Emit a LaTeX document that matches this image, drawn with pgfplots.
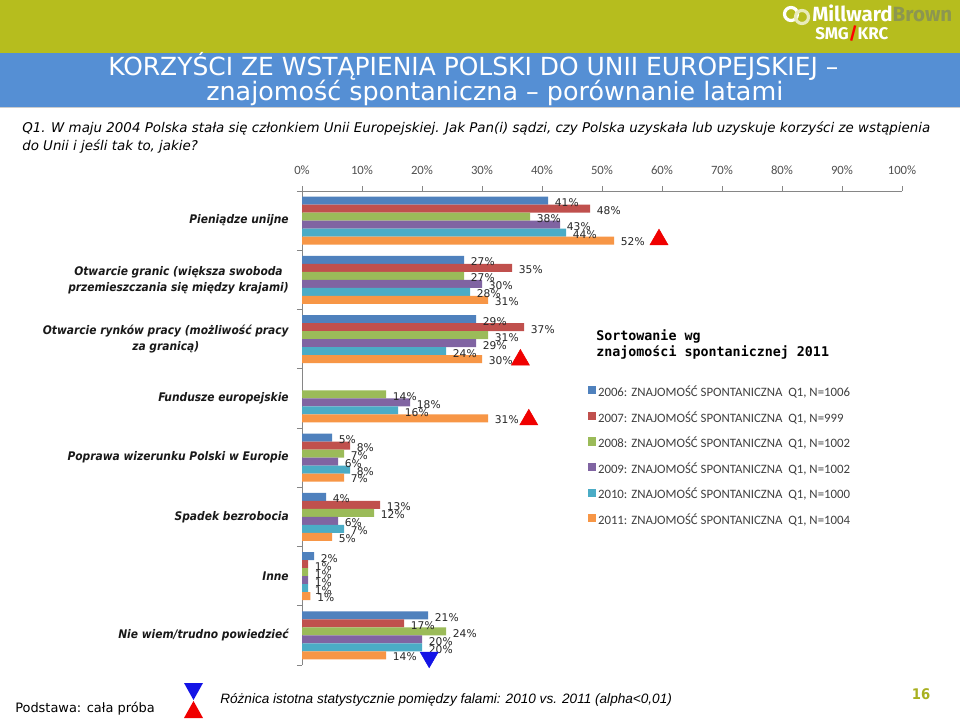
\documentclass[border=0pt]{standalone}
\usepackage{pgfplots}
\pgfplotsset{compat=1.18}
\usepackage{fontspec}
\setmainfont{DejaVu Sans}
\newfontfamily\condf{DejaVu Sans Condensed}
\newfontfamily\carl{Carlito}
\newfontfamily\libs{Liberation Sans}
\newfontfamily\monof{DejaVu Sans Mono}
\newfontfamily\fira{Fira Sans}
\definecolor{cA}{HTML}{4F81BD}
\definecolor{cB}{HTML}{C0504D}
\definecolor{cC}{HTML}{9BBB59}
\definecolor{cD}{HTML}{8064A2}
\definecolor{cE}{HTML}{4BACC6}
\definecolor{cF}{HTML}{F79646}
\definecolor{mbgreen}{RGB}{182,189,30}
\definecolor{mbblue}{RGB}{85,143,212}
\definecolor{mbolive}{RGB}{168,176,32}
\definecolor{mbbrown}{RGB}{140,150,80}
\definecolor{axisgray}{RGB}{134,134,134}
\definecolor{tickgray}{RGB}{80,80,80}
\definecolor{legtext}{RGB}{64,64,64}
\definecolor{sigred}{RGB}{240,0,0}
\definecolor{sigblue}{RGB}{20,20,230}
\pgfplotsset{
  vals/.style={
    point meta=x,
    nodes near coords={\pgfmathprintnumber[fixed,precision=0]{\pgfplotspointmeta}\%},
    every node near coord/.style={font=\fontsize{8}{9}\selectfont, text=black!85, anchor=west, inner sep=1pt, xshift=4pt, yshift=#1}
  }
}
\newsavebox\qa
\newsavebox\qb
\begin{document}
\sbox\qa{\itshape\fontsize{9.5}{11}\selectfont Q1. W maju 2004 Polska stała się członkiem Unii Europejskiej. Jak Pan(i) sądzi, czy Polska uzyskała lub uzyskuje korzyści ze wstąpienia}%
\sbox\qb{\itshape\fontsize{9.5}{11}\selectfont do Unii i jeśli tak to, jakie?}%
\pgfmathsetmacro\qs{681/\wd\qa}%
\begin{tikzpicture}[x=0.75pt,y=-0.75pt]
\fill[white] (0,0) rectangle (960,720);
\path[use as bounding box] (0,0) rectangle (960,720);
% header
\fill[mbgreen] (0,0) rectangle (960,53);
\fill[mbblue] (0,53) rectangle (960,107);
\fill[black!20] (0,107) rectangle (960,108.5);
% logo
\draw[white, line width=2.4pt] (791,14) circle (6.5);
\draw[white!70!mbgreen, line width=2.4pt] (802,17) circle (6.5);
\node[anchor=base west, inner sep=0pt] at (812,22) {\resizebox{105pt}{!}{\fira\bfseries\fontsize{14}{16}\selectfont\textcolor{white}{Millward}\textcolor{mbbrown}{Brown}}};
\node[anchor=base west, inner sep=0pt] at (815,40) {\resizebox{54.75pt}{!}{\fira\bfseries\fontsize{12}{14}\selectfont\textcolor{white}{SMG}\textcolor{red}{/}\textcolor{white}{KRC}}};
% title
\node[anchor=base west, inner sep=0pt, text=white] at (108,76) {\resizebox{547.5pt}{!}{\fontsize{16}{18}\selectfont KORZYŚCI ZE WSTĄPIENIA POLSKI DO UNII EUROPEJSKIEJ –}};
\node[anchor=base west, inner sep=0pt, text=white] at (206,101) {\resizebox{432.75pt}{!}{\fontsize{16}{18}\selectfont znajomość spontaniczna – porównanie latami}};
% question
\node[anchor=base west, inner sep=0pt, text=black] at (22,133) {\scalebox{\qs}{\usebox\qa}};
\node[anchor=base west, inner sep=0pt, text=black] at (22,151) {\scalebox{\qs}{\usebox\qb}};

\begin{axis}[
  at={(226.5pt,-498.75pt)}, anchor=south west,
  scale only axis, width=450pt, height=355.5pt,
  xmin=0, xmax=100, ymin=-0.5, ymax=7.5,
  axis x line*=top, axis y line*=left,
  axis line style={draw=axisgray, line width=0.6pt},
  /pgf/number format/assume math mode=true,
  xtick={0,10,...,100},
  xticklabel={\pgfmathprintnumber{\tick}\%},
  xticklabel style={font=\carl\fontsize{9.5}{10}\selectfont, text=tickgray, inner sep=0pt, yshift=8.25pt},
  tick align=outside,
  major tick length=3.75pt,
  minor tick length=3.75pt,
  tick style={draw=axisgray, line width=0.6pt},
  ytick={0,...,7},
  yticklabels={Nie wiem/trudno powiedzieć, Inne, Spadek bezrobocia, Poprawa wizerunku Polski w Europie, Fundusze europejskie, {Otwarcie rynków pracy (możliwość pracy\\za granicą)}, {Otwarcie granic (większa swoboda\\przemieszczania się między krajami)}, Pieniądze unijne},
  yticklabel style={font=\condf\bfseries\itshape\fontsize{8.9}{12}\selectfont, text=black!90, align=center, inner sep=0pt, xshift=-6pt},
  every major y tick/.append style={draw=none},
  minor ytick={-0.5,0.5,...,7.5},
  bar width=6pt,
  clip=false,
  legend cell align=left,
  legend style={at={(0.4767,0.5886)}, anchor=north west, draw=none, fill=none,
    font=\carl\fontsize{9.6}{11}\selectfont, text=legtext, row sep=8.55pt, inner sep=0pt,
    nodes={inner sep=1.5pt, text height=6pt, text depth=1.5pt}},
]
\addplot[xbar, bar shift=15pt, fill=cA, draw=none, forget plot, vals=13.5pt] coordinates {(41,7) (27,6) (29,5) (5,3) (4,2) (2,1) (21,0)};
\addplot[xbar, bar shift=9pt, fill=cB, draw=none, forget plot, vals=7.5pt] coordinates {(48,7) (35,6) (37,5) (8,3) (13,2) (1,1) (17,0)};
\addplot[xbar, bar shift=3pt, fill=cC, draw=none, forget plot, vals=1.5pt] coordinates {(38,7) (27,6) (31,5) (14,4) (7,3) (12,2) (1,1) (24,0)};
\addplot[xbar, bar shift=-3pt, fill=cD, draw=none, forget plot, vals=-4.5pt] coordinates {(43,7) (30,6) (29,5) (18,4) (6,3) (6,2) (1,1) (20,0)};
\addplot[xbar, bar shift=-9pt, fill=cE, draw=none, forget plot, vals=-10.5pt] coordinates {(44,7) (28,6) (24,5) (16,4) (8,3) (7,2) (1,1) (20,0)};
\addplot[xbar, bar shift=-15pt, fill=cF, draw=none, forget plot, vals=-16pt] coordinates {(52,7) (31,6) (30,5) (31,4) (7,3) (5,2) (1.4,1) (14,0)};
\addplot[only marks, mark=triangle*, mark size=7.8pt, color=sigred, mark options={draw=sigred, fill=sigred}, forget plot] coordinates {(59.5,6.68) (36.4,4.65) (37.8,3.64)};
\addplot[only marks, mark=triangle*, mark size=7.8pt, color=sigblue, mark options={rotate=180, draw=sigblue, fill=sigblue}, forget plot] coordinates {(21.2,-0.37)};
\addlegendimage{legend image code/.code={\fill[cA] (0pt,-0.2pt) rectangle (5.4pt,5.2pt);}}
\addlegendentry{2006: ZNAJOMOŚĆ SPONTANICZNA\ \ Q1, N=1006}
\addlegendimage{legend image code/.code={\fill[cB] (0pt,-0.2pt) rectangle (5.4pt,5.2pt);}}
\addlegendentry{2007: ZNAJOMOŚĆ SPONTANICZNA\ \ Q1, N=999}
\addlegendimage{legend image code/.code={\fill[cC] (0pt,-0.2pt) rectangle (5.4pt,5.2pt);}}
\addlegendentry{2008: ZNAJOMOŚĆ SPONTANICZNA\ \ Q1, N=1002}
\addlegendimage{legend image code/.code={\fill[cD] (0pt,-0.2pt) rectangle (5.4pt,5.2pt);}}
\addlegendentry{2009: ZNAJOMOŚĆ SPONTANICZNA\ \ Q1, N=1002}
\addlegendimage{legend image code/.code={\fill[cE] (0pt,-0.2pt) rectangle (5.4pt,5.2pt);}}
\addlegendentry{2010: ZNAJOMOŚĆ SPONTANICZNA\ \ Q1, N=1000}
\addlegendimage{legend image code/.code={\fill[cF] (0pt,-0.2pt) rectangle (5.4pt,5.2pt);}}
\addlegendentry{2011: ZNAJOMOŚĆ SPONTANICZNA\ \ Q1, N=1004}
\end{axis}

% sorting note
\node[anchor=base west, inner sep=0pt] at (596,340) {\monof\bfseries\fontsize{10}{12}\selectfont Sortowanie wg};
\node[anchor=base west, inner sep=0pt] at (596,356) {\monof\bfseries\fontsize{10}{12}\selectfont znajomości spontanicznej 2011};

% footer
\node[anchor=base west, inner sep=0pt] at (15,712) {\fontsize{9.7}{11}\selectfont Podstawa: cała próba};
\fill[sigblue] (184,683) -- (203,683) -- (193.5,700) -- cycle;
\fill[sigred] (193.5,701) -- (203,718) -- (184,718) -- cycle;
\node[anchor=base west, inner sep=0pt] at (220,703) {\libs\itshape\fontsize{10.2}{12}\selectfont Różnica istotna statystycznie pomiędzy falami: 2010 vs. 2011 (alpha<0,01)};
\node[anchor=center, inner sep=0pt, text=mbolive] at (921,694) {\condf\bfseries\fontsize{11}{13}\selectfont 16};
\end{tikzpicture}
\end{document}
